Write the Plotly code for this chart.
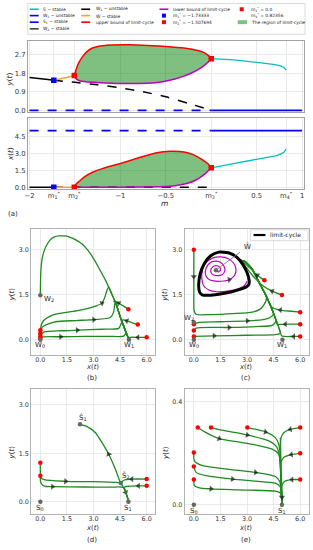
import plotly.graph_objects as go

# ======================= DATA =======================
# ---- panel (a): bifurcation diagram in m ----
m1_star = -1.73333
m2_star = -1.507694
m3_star = 0.0
m4_star = 0.82356
m_lo, m_hi = -2.0, 1.0
W1_level = 5.0          # x-coordinate of W1 / S1

a_xtick_vals = [-2, m1_star, m2_star, -1, -0.5, m3_star, 0.5, m4_star, 1]
a_xtick_text = ["−2", "m<sub>1</sub><sup>*</sup>", "m<sub>2</sub><sup>*</sup>", "−1", "−0.5",
                "m<sub>3</sub><sup>*</sup>", "0.5", "m<sub>4</sub><sup>*</sup>", "1"]
a1_ytick_vals = [0.0, 0.9, 1.8, 2.7]
a2_ytick_vals = [0.0, 1.5, 3.0, 4.5]

# y(t) coordinate of the equilibria / limit-cycle bounds
W2s_m = [m_lo, -1.9, -1.8, m1_star]
W2s_y = [1.60, 1.55, 1.50, 1.46]
W2u_m = [m1_star, -1.5, -1.25, -1.0, -0.75, -0.5, -0.25, m3_star]
W2u_y = [1.46, 1.36, 1.24, 1.09, 0.90, 0.66, 0.34, 0.0]
Wh_m = [m1_star, -1.62, m2_star]
Wh_y = [1.46, 1.57, 1.69]
upY_m = [m2_star, -1.49, -1.47, -1.45, -1.42, -1.38, -1.32, -1.25, -1.1, -0.9, -0.7, -0.5, -0.3, -0.15, -0.07, -0.02, m3_star]
upY = [1.69, 1.95, 2.2, 2.38, 2.58, 2.8, 3.0, 3.1, 3.17, 3.18, 3.15, 3.1, 3.02, 2.9, 2.78, 2.62, 2.51]
loY_m = [m2_star, -1.5, -1.48, -1.45, -1.4, -1.3, -1.1, -0.9, -0.7, -0.55, -0.4, -0.3, -0.2, -0.1, -0.04, m3_star]
loY = [1.69, 1.6, 1.5, 1.44, 1.4, 1.36, 1.32, 1.3, 1.32, 1.38, 1.52, 1.66, 1.85, 2.1, 2.32, 2.51]
Sh_m = [m3_star, 0.15, 0.3, 0.45, 0.6, 0.7, 0.76, 0.8, m4_star]
ShY = [2.51, 2.47, 2.42, 2.35, 2.28, 2.22, 2.16, 2.08, 1.95]

# x(t) coordinate
upX_m = [m2_star, -1.5, -1.48, -1.45, -1.4, -1.3, -1.2, -1.0, -0.8, -0.6, -0.45, -0.3, -0.2, -0.1, -0.04, m3_star]
upX = [0.0, 0.15, 0.35, 0.55, 0.9, 1.35, 1.65, 2.1, 2.6, 3.05, 3.18, 3.12, 2.88, 2.45, 2.1, 1.72]
loX_m = [m2_star, -1.2, -0.8, -0.6, -0.45, -0.35, -0.25, -0.18, -0.12, -0.06, m3_star]
loX = [0.0, 0.0, 0.02, 0.05, 0.1, 0.2, 0.38, 0.6, 0.88, 1.25, 1.72]
Sh_mx = [m3_star, 0.2, 0.4, 0.6, 0.72, 0.8, m4_star]
ShX = [1.72, 2.02, 2.32, 2.62, 2.8, 3.1, 3.38]

# ---- phase portraits ----
phase_xticks = [0.0, 1.5, 3.0, 4.5, 6.0]
bcd_yticks = [0.0, 1.5, 3.0]
e_yticks = [0.0, 0.4]

# (b)
b_orbit_x = [[0, 0.01, 0.03, 0.1, 0.22, 0.4, 0.59, 0.8, 1.06, 1.35, 1.62, 2.0, 2.36, 2.7, 3.02, 3.25, 3.48, 3.68, 3.86, 4.05, 4.23, 4.38, 4.51, 4.65, 4.79, 4.9, 4.97]]
b_orbit_y = [[1.48, 1.9, 2.3, 2.7, 2.97, 3.2, 3.35, 3.43, 3.46, 3.46, 3.43, 3.33, 3.19, 2.97, 2.69, 2.45, 2.2, 1.98, 1.75, 1.5, 1.26, 1.01, 0.76, 0.54, 0.32, 0.15, 0.05]]
b_traj_x = [[0, 0.13, 0.69, 2.18, 3.2, 3.48, 3.64, 3.76, 3.86, 4.05, 4.23, 4.51, 4.79, 4.97],
            [0, 0.13, 0.87, 2.0, 3.02, 3.95, 4.14, 4.19, 4.23, 4.51, 4.79, 4.97],
            [0, 0.22, 1.2, 2.09, 3.5, 4.42, 4.55, 4.62, 4.79, 4.97],
            [0, 0.1, 1.15, 2.5, 3.8, 4.7, 4.82, 4.9, 4.97],
            [4.97, 4.7, 4.42, 4.25, 4.14, 4.23, 4.38, 4.51, 4.79, 4.97],
            [5.5, 5.15, 4.88, 4.7, 4.58, 4.65, 4.79, 4.97],
            [6.0, 5.5, 5.07, 4.97]]
b_traj_y = [[0.32, 0.6, 0.82, 0.98, 1.14, 1.22, 1.42, 1.65, 1.75, 1.5, 1.26, 0.76, 0.32, 0.05],
            [0.21, 0.43, 0.6, 0.64, 0.67, 0.74, 0.93, 1.15, 1.26, 0.76, 0.32, 0.05],
            [0.12, 0.26, 0.3, 0.32, 0.35, 0.38, 0.52, 0.58, 0.32, 0.05],
            [0.05, 0.09, 0.1, 0.11, 0.115, 0.12, 0.2, 0.15, 0.05],
            [1.02, 1.12, 1.22, 1.27, 1.29, 1.26, 1.01, 0.76, 0.32, 0.05],
            [0.51, 0.57, 0.63, 0.66, 0.65, 0.54, 0.32, 0.05],
            [0.08, 0.08, 0.08, 0.05]]
b_arrow = [5, 4, 3, 2, 2, 2, 1]
b_eq_x = [0.0, 5.0, 0.0]
b_eq_y = [0.0, 0.0, 1.48]

# (c)
c_cycle_x = [0.27, 0.36, 0.6, 0.95, 1.4, 1.95, 2.4, 2.75, 3.0, 3.12, 3.1, 2.95, 2.6, 2.15, 1.65, 1.2, 0.8, 0.5, 0.33, 0.27]
c_cycle_y = [1.8, 2.2, 2.55, 2.8, 2.92, 2.9, 2.76, 2.52, 2.24, 1.98, 1.84, 1.76, 1.68, 1.6, 1.54, 1.5, 1.48, 1.49, 1.58, 1.8]
c_spiral_x = [1.25, 1.38, 1.5, 1.45, 1.25, 1.05, 0.95, 1.05, 1.3, 1.6, 1.75, 1.7, 1.5, 1.2, 0.9, 0.7, 0.65, 0.8, 1.1,
              1.55, 2.0, 2.3, 2.38, 2.25, 1.95, 1.5, 1.05, 0.7, 0.5, 0.45, 0.55, 0.85, 1.3, 1.9, 2.5, 2.85, 3.0]
c_spiral_y = [2.32, 2.26, 2.32, 2.42, 2.47, 2.42, 2.3, 2.18, 2.14, 2.17, 2.3, 2.45, 2.58, 2.62, 2.56, 2.4, 2.2, 2.03, 1.96,
              1.95, 2.0, 2.15, 2.35, 2.55, 2.7, 2.76, 2.72, 2.58, 2.35, 2.05, 1.8, 1.66, 1.6, 1.62, 1.7, 1.8, 1.95]
c_spiral_arrow = 20
c_traj_x = [[0, 0, 0, 0, 0.02, 0.13, 1.0, 2.2, 3.3, 3.76, 3.95, 4.1, 3.86, 3.67, 3.48, 3.3, 3.11, 2.85, 2.55],
            [0, 0.3, 1.5, 3.02, 3.9, 4.3, 4.5, 4.42, 4.23, 4.05, 3.86, 3.67, 3.48, 3.3, 3.11, 2.85, 2.55],
            [0, 0.13, 1.99, 3.5, 4.42, 4.62, 4.6, 4.42, 4.23, 4.05, 3.86, 3.67, 3.48, 3.3, 3.11, 2.85, 2.55],
            [0, 1.15, 3.0, 4.6, 4.85, 4.88, 4.75, 4.6, 4.42, 4.23, 4.05, 3.86, 3.67, 3.48, 3.3, 3.11, 2.85, 2.55],
            [6.0, 5.5, 4.88, 4.5, 4.35, 4.23, 4.05, 3.86, 3.67, 3.48, 3.3, 3.11, 2.85, 2.55],
            [6.0, 5.6, 5.16, 4.85, 4.7, 4.6, 4.42, 4.23, 4.05, 3.86, 3.67, 3.48, 3.3, 3.11, 2.85, 2.55],
            [6.0, 5.63, 5.1, 4.95, 4.88, 4.75, 4.6, 4.42, 4.23, 4.05, 3.86, 3.67, 3.48, 3.3, 3.11, 2.85, 2.55],
            [4.97, 4.42, 3.86, 3.3, 2.9, 2.55],
            [3.98, 3.58, 3.2, 2.85, 2.55]]
c_traj_y = [[3.0, 2.6, 2.1, 1.5, 0.95, 0.85, 0.84, 0.87, 0.92, 1.03, 1.16, 1.38, 1.71, 1.93, 2.15, 2.35, 2.48, 2.62, 2.65],
            [0.52, 0.58, 0.6, 0.63, 0.67, 0.74, 0.86, 1.0, 1.27, 1.5, 1.71, 1.93, 2.15, 2.35, 2.48, 2.62, 2.65],
            [0.31, 0.39, 0.41, 0.44, 0.48, 0.6, 0.72, 1.0, 1.27, 1.5, 1.71, 1.93, 2.15, 2.35, 2.48, 2.62, 2.65],
            [0.11, 0.13, 0.15, 0.17, 0.2, 0.25, 0.48, 0.72, 1.0, 1.27, 1.5, 1.71, 1.93, 2.15, 2.35, 2.48, 2.62, 2.65],
            [0.92, 0.95, 0.99, 1.05, 1.12, 1.27, 1.5, 1.71, 1.93, 2.15, 2.35, 2.48, 2.62, 2.65],
            [0.52, 0.52, 0.52, 0.51, 0.52, 0.72, 1.0, 1.27, 1.5, 1.71, 1.93, 2.15, 2.35, 2.48, 2.62, 2.65],
            [0.11, 0.11, 0.11, 0.13, 0.25, 0.48, 0.72, 1.0, 1.27, 1.5, 1.71, 1.93, 2.15, 2.35, 2.48, 2.62, 2.65],
            [1.49, 1.62, 1.82, 2.15, 2.45, 2.65],
            [1.98, 2.15, 2.37, 2.55, 2.65]]
c_arrow = [2, 3, 2, 1, 2, 2, 1, 1, 1]
c_eq_x = [0.0, 5.0, 0.0]
c_eq_y = [0.0, 0.0, 0.58]
c_What = (1.25, 2.32)

# (d)
d_orbit_x = [[4.54, 4.51, 4.23, 3.86, 3.48, 3.11, 2.64, 2.24], [4.54, 4.69, 4.82, 4.97]]
d_orbit_y = [[0.58, 0.6, 1.01, 1.47, 1.83, 2.14, 2.33, 2.4], [0.58, 0.44, 0.29, 0.03]]
d_orbit_arrow = [3, 2]
d_traj_x = [[0, 0, 0.03, 0.22, 1.43, 3.0, 4.2, 4.5],
            [0, 0.02, 0.15, 0.31, 0.69, 2.5, 4.0, 4.69, 4.82, 4.97],
            [6.0, 5.16, 4.8, 4.6],
            [6.0, 5.53, 5.0, 4.75, 4.82, 4.97]]
d_traj_y = [[1.21, 0.95, 0.75, 0.68, 0.63, 0.62, 0.6, 0.59],
            [0.8, 0.6, 0.5, 0.47, 0.465, 0.455, 0.45, 0.44, 0.29, 0.03],
            [0.7, 0.7, 0.68, 0.62],
            [0.49, 0.49, 0.48, 0.45, 0.29, 0.03]]
d_arrow = [4, 4, 1, 1]
d_eq_x = [0.0, 4.97, 2.24, 4.54]
d_eq_y = [0.0, 0.0, 2.4, 0.58]

# (e)
e_orbit_x = [[4.88, 4.92, 4.95, 4.97, 4.97]]
e_orbit_y = [[0.26, 0.15, 0.08, 0.03, 0.005]]
e_orbit_arrow = [3]
e_traj_x = [[0.22, 0.69, 1.43, 2.4, 3.3, 4.42, 4.79, 4.88, 4.92, 4.95, 4.97],
            [0.97, 1.8, 3.02, 4.23, 4.69, 4.85, 4.9, 4.94, 4.97],
            [3.02, 4.04, 4.6, 4.79, 4.87, 4.9, 4.94, 4.97],
            [6.0, 5.44, 5.07, 4.92, 4.88, 4.9, 4.94, 4.97],
            [6.0, 5.5, 5.07, 4.92, 4.9, 4.94, 4.97],
            [6.0, 5.53, 5.12, 4.97, 4.95, 4.97],
            [0, 0.03, 0.5, 2.0, 3.48, 4.6, 4.85, 4.93, 4.97],
            [0, 0.13, 0.69, 2.18, 3.5, 4.6, 4.88, 4.94, 4.97],
            [0, 0.03, 0.31, 0.97, 2.5, 4.6, 4.9, 4.95, 4.97]]
e_traj_y = [[0.30, 0.28, 0.257, 0.245, 0.235, 0.216, 0.197, 0.158, 0.1, 0.05, 0.0],
            [0.30, 0.287, 0.271, 0.248, 0.223, 0.18, 0.12, 0.06, 0.0],
            [0.30, 0.283, 0.261, 0.235, 0.2, 0.12, 0.06, 0.0],
            [0.30, 0.293, 0.28, 0.26, 0.22, 0.12, 0.06, 0.0],
            [0.2, 0.195, 0.184, 0.165, 0.12, 0.06, 0.0],
            [0.098, 0.098, 0.091, 0.075, 0.04, 0.0],
            [0.203, 0.171, 0.152, 0.138, 0.126, 0.11, 0.09, 0.05, 0.0],
            [0.149, 0.126, 0.113, 0.1, 0.092, 0.084, 0.07, 0.04, 0.0],
            [0.098, 0.075, 0.066, 0.062, 0.058, 0.053, 0.045, 0.025, 0.0]]
e_arrow = [2, 2, 1, 1, 1, 1, 4, 3, 3]
e_eq_x = [0.0, 4.97]
e_eq_y = [0.0, 0.0]

# ======================= STYLE / LAYOUT =======================
W, H = 313, 550
FONT = "DejaVu Sans"
GREEN = "#1f8a1f"
CYAN = "#00bfbf"
ORANGE = "#ff9a3c"
MAGENTA = "#bf00bf"
REGION = "rgba(0,128,0,0.5)"


def px(x):
    return x / W


def py(y):
    return 1 - y / H


fig = go.Figure()


def add(ax, x, y, **kw):
    fig.add_trace(go.Scatter(x=list(x), y=list(y), xaxis="x" + ax, yaxis="y" + ax,
                             showlegend=False, hoverinfo="skip", **kw))


def line(ax, x, y, color, width=1.5, dash="solid", spline=True):
    add(ax, x, y, mode="lines",
        line=dict(color=color, width=width, dash=dash,
                  shape="spline" if spline else "linear", smoothing=0.6))


def squares(ax, x, y, color):
    add(ax, x, y, mode="markers", marker=dict(symbol="square", size=5.5, color=color))


def traj(ax, xs, ys, arrow_idx, color=GREEN, width=1.3):
    sizes = [0] * len(xs)
    sizes[arrow_idx] = 5.5
    add(ax, xs, ys, mode="lines+markers",
        line=dict(color=color, width=width, shape="spline", smoothing=0.7),
        marker=dict(size=sizes, symbol="triangle-up", angleref="previous", color="#151515",
                    line=dict(width=0)))


def dots(ax, x, y, color, size=4.5):
    add(ax, x, y, mode="markers", marker=dict(size=size, color=color, line=dict(width=0)))


# ---- (a) top: y(t) ----
fig.add_trace(go.Scatter(x=upY_m + loY_m[::-1], y=upY + loY[::-1], xaxis="x", yaxis="y",
                         fill="toself", fillcolor=REGION, mode="lines",
                         line=dict(width=0, shape="spline", smoothing=0.6),
                         showlegend=False, hoverinfo="skip"))
line("", [m_lo, m3_star], [0, 0], "blue", 1.8, "dash", False)
line("", [m3_star, m_hi], [0, 0], "blue", 1.8, "solid", False)
line("", W2s_m, W2s_y, "black", 1.5)
line("", W2u_m, W2u_y, "black", 1.5, "dash")
line("", Wh_m, Wh_y, ORANGE, 1.5)
line("", upY_m, upY, "red", 1.5)
line("", loY_m, loY, MAGENTA, 1.5)
line("", Sh_m, ShY, CYAN, 1.3)
squares("", [m1_star], [W2s_y[-1]], "blue")
squares("", [m2_star, m3_star], [upY[0], upY[-1]], "red")

# ---- (a) bottom: x(t) ----
fig.add_trace(go.Scatter(x=upX_m + loX_m[::-1], y=upX + loX[::-1], xaxis="x2", yaxis="y2",
                         fill="toself", fillcolor=REGION, mode="lines",
                         line=dict(width=0, shape="spline", smoothing=0.6),
                         showlegend=False, hoverinfo="skip"))
line("2", [m_lo, m3_star], [W1_level, W1_level], "blue", 1.8, "dash", False)
line("2", [m3_star, m_hi], [W1_level, W1_level], "blue", 1.8, "solid", False)
line("2", [m_lo, m1_star], [0, 0], "black", 1.5, "solid", False)
line("2", [m1_star, m3_star], [0, 0], "black", 1.5, "dash", False)
line("2", [m1_star, m2_star], [0, 0], ORANGE, 1.5, "solid", False)
line("2", loX_m, loX, MAGENTA, 1.5)
line("2", upX_m, upX, "red", 1.5)
line("2", Sh_mx, ShX, CYAN, 1.3)
squares("2", [m1_star], [0], "blue")
squares("2", [m2_star, m3_star], [upX[0], upX[-1]], "red")

# ---- (b) ----
for xs, ys in zip(b_orbit_x, b_orbit_y):
    line("3", xs, ys, GREEN, 1.3)
for xs, ys, ai in zip(b_traj_x, b_traj_y, b_arrow):
    traj("3", xs, ys, ai)
dots("3", [t[0] for t in b_traj_x], [t[0] for t in b_traj_y], "red")
dots("3", b_eq_x, b_eq_y, "#666")

# ---- (c) ----
for xs, ys, ai in zip(c_traj_x, c_traj_y, c_arrow):
    traj("4", xs, ys, ai)
traj("4", c_spiral_x, c_spiral_y, c_spiral_arrow, color=MAGENTA, width=1.2)
line("4", c_cycle_x, c_cycle_y, "black", 3.0)
dots("4", [t[0] for t in c_traj_x], [t[0] for t in c_traj_y], "red")
dots("4", c_eq_x + [c_What[0]], c_eq_y + [c_What[1]], "#666")

# ---- (d) ----
for xs, ys, ai in zip(d_orbit_x, d_orbit_y, d_orbit_arrow):
    traj("5", xs, ys, ai)
for xs, ys, ai in zip(d_traj_x, d_traj_y, d_arrow):
    traj("5", xs, ys, ai)
dots("5", [t[0] for t in d_traj_x], [t[0] for t in d_traj_y], "red")
dots("5", d_eq_x, d_eq_y, "#666")

# ---- (e) ----
for xs, ys, ai in zip(e_traj_x, e_traj_y, e_arrow):
    traj("6", xs, ys, ai)
for xs, ys, ai in zip(e_orbit_x, e_orbit_y, e_orbit_arrow):
    traj("6", xs, ys, ai)
dots("6", [t[0] for t in e_traj_x], [t[0] for t in e_traj_y], "red")
dots("6", e_eq_x, e_eq_y, "#666")


# ---- axes ----
def axis(dom_px, rng, tickvals, ticktext=None, labels=True, fs=6.4, anchor=None, vertical=False,
         linecolor="#aaaaaa", standoff=0):
    if vertical:
        dom = [py(dom_px[1]), py(dom_px[0])]
    else:
        dom = [px(dom_px[0]), px(dom_px[1])]
    d = dict(domain=dom, range=rng, tickvals=tickvals, showgrid=True, gridcolor="#e4e4e4",
             gridwidth=0.8, zeroline=False, showline=True, linecolor=linecolor, linewidth=0.9,
             mirror=True, ticks="", tickfont=dict(size=fs, color="#333", family=FONT),
             showticklabels=labels, anchor=anchor, fixedrange=True, ticklabelstandoff=standoff)
    if ticktext is not None:
        d["ticktext"] = ticktext
    else:
        d["tickformat"] = ".1f"
    return d


AX_A = (25, 304)
AX_L = (28.3, 154)
AX_R = (183.3, 309)
PX_RANGE = [-0.525, 6.5]

layout_axes = dict(
    xaxis=axis(AX_A, [-2.02, 1.022], a_xtick_vals, a_xtick_text, labels=False, anchor="y", linecolor="#999", fs=6.8),
    yaxis=axis((41, 113), [-0.096, 3.375], a1_ytick_vals, anchor="x", vertical=True, linecolor="#999", fs=6.8),
    xaxis2=axis(AX_A, [-2.02, 1.022], a_xtick_vals, a_xtick_text, anchor="y2", linecolor="#999", fs=6.8),
    yaxis2=axis((119, 190), [-0.15, 6.09], a2_ytick_vals, anchor="x2", vertical=True, linecolor="#999", fs=6.8),
    xaxis3=axis(AX_L, PX_RANGE, phase_xticks, anchor="y3", standoff=-1),
    yaxis3=axis((230, 356.7), [-0.5, 3.7], bcd_yticks, anchor="x3", vertical=True),
    xaxis4=axis(AX_R, PX_RANGE, phase_xticks, anchor="y4", standoff=-1),
    yaxis4=axis((230, 356.7), [-0.5, 3.7], bcd_yticks, anchor="x4", vertical=True),
    xaxis5=axis(AX_L, PX_RANGE, phase_xticks, anchor="y5", standoff=-1),
    yaxis5=axis((391, 516.7), [-0.38, 3.5], bcd_yticks, anchor="x5", vertical=True),
    xaxis6=axis(AX_R, PX_RANGE, phase_xticks, anchor="y6", standoff=-1),
    yaxis6=axis((391, 516.7), [-0.035, 0.45], e_yticks, anchor="x6", vertical=True),
)

# ---- annotations ----
ann = []


def ptext(x, y, text, size=7, angle=0, xanchor="center"):
    ann.append(dict(x=px(x), y=py(y), xref="paper", yref="paper", text=text, showarrow=False,
                    font=dict(size=size, family=FONT, color="#222"), textangle=angle,
                    xanchor=xanchor, yanchor="middle"))


def dtext(ax, x, y, text, size=7, xanchor="center"):
    ann.append(dict(x=x, y=y, xref="x" + ax, yref="y" + ax, text=text, showarrow=False,
                    font=dict(size=size, family=FONT, color="#222"), xanchor=xanchor,
                    yanchor="middle"))


XT = "<i>x</i>(<i>t</i>)"
YT = "<i>y</i>(<i>t</i>)"
# (a)
ptext(7, 80, YT, 7.2, -90)
ptext(7, 155, XT, 7.2, -90)
ptext(163, 205, "<i>m</i>", 7.5)
ptext(3, 215, "(a)", 7, xanchor="left")
# (b)-(e) axis titles and captions
for cx, cy in [(9, 296), (164, 296), (9, 455), (164, 455)]:
    ptext(cx, cy, YT, 7, -90)
for cx, cy, lab in [(90, 369, "(b)"), (245, 369, "(c)"), (90, 531, "(d)"), (245, 531, "(e)")]:
    ptext(cx, cy, XT, 6.8)
    ptext(cx, cy + 11.5, lab, 7)

# equilibrium labels
dtext("3", 0.08, 1.35, "W<sub>2</sub>", xanchor="left")
dtext("3", 0.0, -0.19, "W<sub>0</sub>")
dtext("3", 5.0, -0.19, "W<sub>1</sub>")
dtext("4", -0.27, 0.74, "W<sub>2</sub>")
dtext("4", 0.0, -0.19, "W<sub>0</sub>")
dtext("4", 5.0, -0.19, "W<sub>1</sub>")
ann.append(dict(x=c_What[0], y=c_What[1], xref="x4", yref="y4", ax=3.02, ay=3.1, axref="x4",
                ayref="y4", text="Ŵ", showarrow=True, arrowhead=0, arrowwidth=0.9, arrowcolor="#777",
                font=dict(size=7, family=FONT, color="#222"), standoff=0, startstandoff=3))
dtext("5", 0.0, -0.19, "S<sub>0</sub>")
dtext("5", 4.97, -0.19, "S<sub>1</sub>")
dtext("5", 2.38, 2.6, "Ŝ<sub>1</sub>")
dtext("5", 4.85, 0.8, "Ŝ<sub>2</sub>")
dtext("6", 0.0, -0.022, "S<sub>0</sub>")
dtext("6", 4.97, -0.022, "S<sub>1</sub>")

# ---- manual legend for (a) ----
shapes = []
shapes.append(dict(type="rect", xref="paper", yref="paper", x0=px(25), x1=px(305), y0=py(34.5), y1=py(3.5),
                   line=dict(color="#d0d0d0", width=0.8), fillcolor="rgba(255,255,255,0.9)"))


def fmt(v):
    return str(v).replace("-", "−")


col_glyph = [27, 79, 158, 237]
col_text = [38, 92, 170, 248]
row_y = [9.3, 15.7, 22.3, 29.0]
legend_items = [
    (0, 0, "line", CYAN, "solid", "Ŝ − stable"),
    (0, 1, "line", "blue", "dash", "W<sub>1</sub> − unstable"),
    (0, 2, "line", "blue", "solid", "S<sub>1</sub> − stable"),
    (0, 3, "line", "#444", "solid", "W<sub>2</sub> − stable"),
    (1, 0, "line", "black", "dash", "W<sub>2</sub> − unstable"),
    (1, 1, "line", ORANGE, "solid", "Ŵ − stable"),
    (1, 2, "line", "red", "solid", "upper bound of limit-cycle"),
    (2, 0, "line", MAGENTA, "solid", "lower bound of limit-cycle"),
    (2, 1, "square", "blue", None, "m<sub>1</sub><sup>*</sup> = " + fmt(m1_star)),
    (2, 2, "square", "red", None, "m<sub>2</sub><sup>*</sup> = " + fmt(m2_star)),
    (3, 0, "square", "red", None, "m<sub>3</sub><sup>*</sup> = " + fmt(m3_star)),
    (3, 1, "none", None, None, "m<sub>4</sub><sup>*</sup> = " + fmt(m4_star)),
    (3, 2, "patch", REGION, None, "The region of limit-cycle"),
]
for col, row, kind, color, dash, text in legend_items:
    gx, yy = col_glyph[col], row_y[row]
    if kind == "line":
        shapes.append(dict(type="line", xref="paper", yref="paper", x0=px(gx), x1=px(gx + 9),
                           y0=py(yy), y1=py(yy), line=dict(color=color, width=1.6, dash=dash)))
    elif kind == "square":
        cx = gx + 4.5 if col == 2 else gx + 4
        shapes.append(dict(type="rect", xref="paper", yref="paper", x0=px(cx - 2), x1=px(cx + 2),
                           y0=py(yy + 2), y1=py(yy - 2), line=dict(width=0), fillcolor=color))
    elif kind == "patch":
        shapes.append(dict(type="rect", xref="paper", yref="paper", x0=px(gx), x1=px(gx + 9.5),
                           y0=py(yy + 2), y1=py(yy - 2), line=dict(width=0), fillcolor=color))
    ann.append(dict(x=px(col_text[col]), y=py(yy), xref="paper", yref="paper", text=text,
                    showarrow=False, xanchor="left", yanchor="middle",
                    font=dict(size=4.4, family=FONT, color="#222")))

# ---- legend for (c) ----
shapes.append(dict(type="rect", xref="paper", yref="paper", x0=px(250), x1=px(308), y0=py(242), y1=py(231),
                   line=dict(color="#d0d0d0", width=0.8), fillcolor="rgba(255,255,255,0.9)"))
shapes.append(dict(type="line", xref="paper", yref="paper", x0=px(253), x1=px(265), y0=py(236.3),
                   y1=py(236.3), line=dict(color="black", width=2.2)))
ann.append(dict(x=px(268), y=py(236.3), xref="paper", yref="paper", text="limit-cycle", showarrow=False,
                xanchor="left", yanchor="middle", font=dict(size=6, family=FONT, color="#222")))

fig.update_layout(width=W, height=H, margin=dict(l=0, r=0, t=0, b=0), paper_bgcolor="white",
                  plot_bgcolor="white", font=dict(family=FONT, size=7, color="#333"),
                  annotations=ann, shapes=shapes, showlegend=False, **layout_axes)

fig.write_html("out.html", config={"displayModeBar": False, "staticPlot": True},
               post_script="document.body.style.margin='0';document.body.style.overflow='hidden';")
